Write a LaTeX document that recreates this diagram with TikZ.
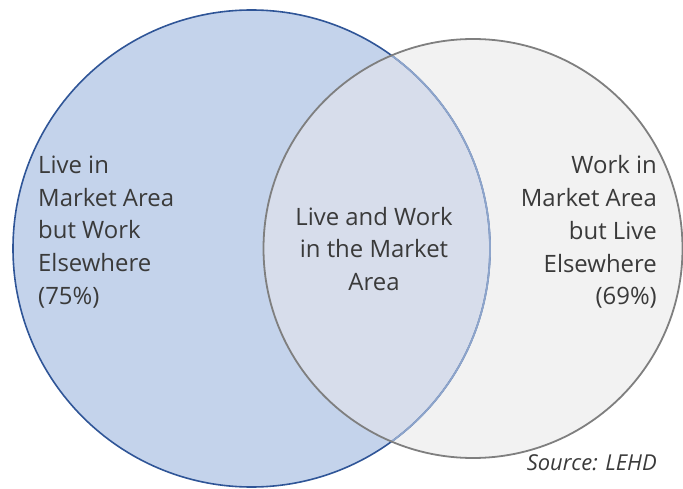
\documentclass[tikz,border=0pt]{standalone}
\usepackage{fontspec}
\setmainfont{Open Sans}
\definecolor{liveFill}{HTML}{C4D3EB}
\definecolor{liveLine}{HTML}{2F5597}
\definecolor{liveLineSoft}{HTML}{8EA5CB}
\definecolor{workFill}{HTML}{F2F2F2}
\definecolor{bothFill}{HTML}{D7DDEB}
\definecolor{workLine}{HTML}{7F7F7F}
\definecolor{labelInk}{HTML}{3A3A3A}
\tikzset{
  setlabel/.style={inner sep=0pt, text=labelInk, font=\fontsize{24}{33}\selectfont},
}
\begin{document}
\begin{tikzpicture}[x=1bp,y=-1bp]
  \useasboundingbox (0,0) rectangle (683,489);
  % the two sets
  \coordinate (liveC) at (251.5,248.5);
  \coordinate (workC) at (473,248.5);
  \fill[liveFill] (liveC) circle[radius=238.5];
  \fill[workFill] (workC) circle[radius=209.5];
  \begin{scope}
    \clip (liveC) circle[radius=238.5];
    \fill[bothFill] (workC) circle[radius=209.5];
  \end{scope}
  % outlines: the blue edge is paler where it lies under the grey set
  \draw[liveLine, line width=1.6bp] (liveC) circle[radius=238.5];
  \begin{scope}
    \clip (workC) circle[radius=209.5];
    \draw[liveLineSoft, line width=1.8bp] (liveC) circle[radius=238.5];
  \end{scope}
  \draw[workLine, line width=1.8bp] (workC) circle[radius=209.5];
  % labels
  \node[setlabel, anchor=west, align=left] (live) at (38,232)
    {Live in\\Market Area\\but Work\\Elsewhere\\(75\%)};
  \node[setlabel, align=center] (both) at (374,249)
    {Live and Work\\in the Market\\Area};
  \node[setlabel, anchor=east, align=right] (work) at (657,232)
    {Work in\\Market Area\\but Live\\Elsewhere\\(69\%)};
  \node[setlabel, anchor=east, font=\fontsize{22}{26}\itshape] (src) at (657,463)
    {Source: LEHD};
\end{tikzpicture}
\end{document}
